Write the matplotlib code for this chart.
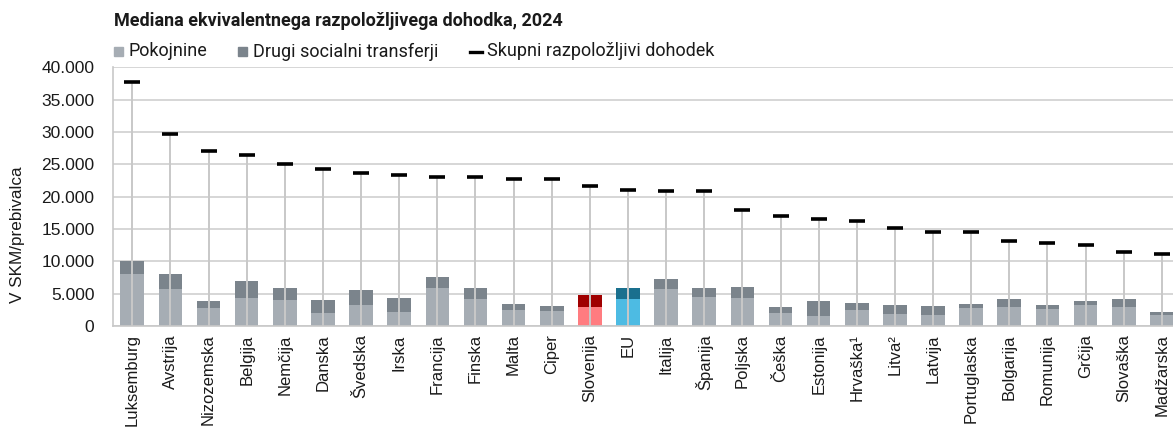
import matplotlib
matplotlib.use("Agg")
import matplotlib.pyplot as plt
from matplotlib.patches import Rectangle
from matplotlib.lines import Line2D
from matplotlib.ticker import FuncFormatter
import numpy as np

countries = ["Luksemburg", "Avstrija", "Nizozemska", "Belgija", "Nemčija", "Danska",
             "Švedska", "Irska", "Francija", "Finska", "Malta", "Ciper", "Slovenija",
             "EU", "Italija", "Španija", "Poljska", "Češka", "Estonija", "Hrvaška¹",
             "Litva²", "Latvija", "Portuglaska", "Bolgarija", "Romunija", "Grčija",
             "Slovaška", "Madžarska"]
pensions = [8000, 5700, 2800, 4300, 4000, 2000, 3200, 2200, 5800, 4100, 2400, 2300, 2900,
            4200, 5700, 4500, 4300, 2000, 1500, 2500, 1800, 1700, 2800, 2900, 2600, 3200,
            3000, 1700]
other_transfers = [2000, 2400, 1100, 2700, 1900, 2000, 2300, 2200, 1700, 1700, 1000, 800, 1900,
                   1700, 1600, 1300, 1700, 900, 2400, 1100, 1400, 1400, 600, 1300, 600, 600,
                   1100, 400]
total_income = [37700, 29700, 27000, 26400, 25100, 24200, 23600, 23300, 23100, 23000, 22800,
                22800, 21600, 21100, 20800, 20800, 18000, 17000, 16500, 16200, 15100, 14600,
                14500, 13100, 12900, 12500, 11400, 11200]

title = "Mediana ekvivalentnega razpoložljivega dohodka, 2024"
legend_labels = ["Pokojnine", "Drugi socialni transferji", "Skupni razpoložljivi dohodek"]
ylabel = "V SKM/prebivalca"

c_pens, c_other = "#A6ADB4", "#7B848C"
pens_colors = [c_pens] * len(countries)
other_colors = [c_other] * len(countries)
i_si = countries.index("Slovenija")
i_eu = countries.index("EU")
pens_colors[i_si], other_colors[i_si] = "#FF7C80", "#A00000"
pens_colors[i_eu], other_colors[i_eu] = "#4DBBE3", "#1A708E"

TXT = "#1a1a1a"
SANS = ["Liberation Sans", "DejaVu Sans"]
LEG = ["Roboto", "DejaVu Sans"]

W, H = 1173, 433
fig = plt.figure(figsize=(W / 100, H / 100), dpi=100)


def fx(px):
    return px / W


def fy(py):
    return 1 - py / H


left_px, right_px = 113.2, 1180.9
top_px, bot_px = 67.3, 326.0
ax = fig.add_axes([fx(left_px), fy(bot_px), (right_px - left_px) / W, (bot_px - top_px) / H])

x = np.arange(len(countries))
bw = 0.62
ax.bar(x, pensions, width=bw, color=pens_colors, zorder=2)
ax.bar(x, other_transfers, bottom=pensions, width=bw, color=other_colors, zorder=2)
ax.vlines(x, 0, total_income, color="#C8C8C8", lw=1.4, zorder=3)
ax.hlines(total_income, x - 0.21, x + 0.21, color="black", lw=2.6, zorder=4)

ax.set_xlim(-0.5, len(countries) - 0.5)
ax.set_ylim(0, 40000)
ax.set_yticks(np.arange(0, 40001, 5000))
ax.yaxis.set_major_formatter(FuncFormatter(lambda v, p: f"{int(v):,}".replace(",", ".")))
ax.grid(axis="y", color="#D0D0D0", lw=1.2, zorder=0)
ax.set_axisbelow(True)
for s in ["top", "right"]:
    ax.spines[s].set_visible(False)
for s in ["left", "bottom"]:
    ax.spines[s].set_color("#C8C8C8")
    ax.spines[s].set_linewidth(1.2)
ax.tick_params(axis="x", length=0, pad=6)
ax.tick_params(axis="y", length=0, pad=13.5)
ax.set_xticks(x)
ax.set_xticklabels(countries, rotation=90, fontsize=12, family=SANS, color=TXT)
for lab in ax.get_yticklabels():
    lab.set_fontsize(12.5)
    lab.set_family(SANS)
    lab.set_color(TXT)

fig.text(fx(18), fy(235), ylabel, rotation=90, ha="center", va="center", fontsize=12.3,
         family=SANS, color=TXT)

fig.text(fx(114), fy(21.5), title, ha="left", va="center", fontsize=13, fontweight="bold",
         family=LEG, color=TXT)

# legend (drawn in figure pixels)
ly = 51.5
fig.add_artist(Rectangle((fx(114), fy(ly + 4.5)), 9 / W, 9 / H, color=c_pens,
                         transform=fig.transFigure))
fig.text(fx(128), fy(ly), legend_labels[0], ha="left", va="center", fontsize=13,
         family=LEG, color=TXT)
fig.add_artist(Rectangle((fx(238), fy(ly + 4.5)), 9 / W, 9 / H, color=c_other,
                         transform=fig.transFigure))
fig.text(fx(253), fy(ly), legend_labels[1], ha="left", va="center", fontsize=13,
         family=LEG, color=TXT)
fig.add_artist(Line2D([fx(470), fx(482)], [fy(ly), fy(ly)], color="black", lw=2.4,
                      transform=fig.transFigure))
fig.text(fx(487), fy(ly), legend_labels[2], ha="left", va="center", fontsize=13,
         family=LEG, color=TXT)

fig.savefig("out.png", dpi=100)
